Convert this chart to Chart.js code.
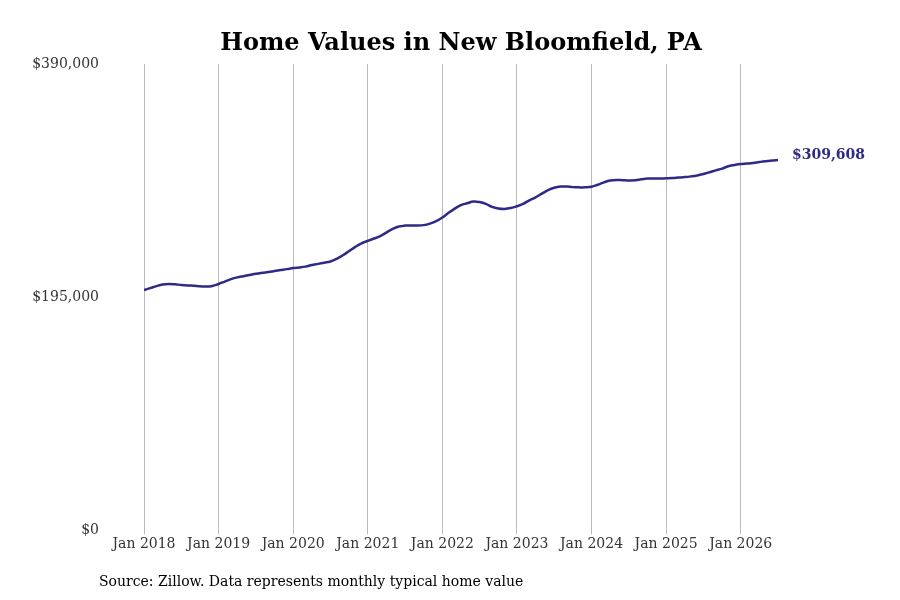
<!DOCTYPE html>
<html><head><meta charset="utf-8">
<script src="https://cdn.jsdelivr.net/npm/chart.js@4"></script>
<style>html,body{margin:0;padding:0;background:#fff}</style>
</head><body>
<canvas id="c" width="900" height="600"></canvas>
<script>
const startYear = 2018;
const values = [
200900,202500,204200,205600,206000,205700,205200,204800,204500,204100,203800,204300,
206000,208000,210000,211500,212500,213500,214500,215300,216000,216800,217600,218400,
219300,219800,220500,221800,222800,223800,224800,227000,230000,233500,237000,240000,
242000,244000,246000,249000,252000,254000,254800,255000,254800,255200,256500,258500,
261600,265500,269000,272000,273500,275000,274500,273000,270500,269200,268800,269500,
271000,273000,276000,278500,281500,284500,286500,287500,287500,287000,286800,286800,
287300,289000,291000,292500,293000,292800,292500,292800,293500,294200,294300,294200,
294400,294600,295000,295400,296000,296800,298000,299500,301000,302500,304500,305500,
306300,306700,307200,308000,308700,309200,309608];
const yTicks = [0,195000,390000];
const title = "Home Values in New Bloomfield, PA";
const source = "Source: Zillow. Data represents monthly typical home value";
const pts = values.map((v,i)=>({x:i,y:v}));
const serif = "'DejaVu Serif', serif";
const extras = {
  id:'extras',
  afterDraw(ch){
    const c=ch.ctx, x=ch.scales.x, y=ch.scales.y;
    const last=pts[pts.length-1];
    c.save();
    c.font="bold 24px "+serif; c.fillStyle="#000"; c.textAlign="center"; c.textBaseline="middle";
    c.fillText(title, 461, 44);
    c.textAlign="left";
    c.font="bold 14px "+serif; c.fillStyle="#2e2a85";
    c.fillText("$"+last.y.toLocaleString('en-US'), x.getPixelForValue(last.x)+14, y.getPixelForValue(last.y)-5);
    c.font="14px "+serif; c.fillStyle="#000";
    c.fillText(source, 99, 582);
    c.restore();
  }
};
new Chart(document.getElementById('c'),{
  type:'line',
  data:{datasets:[{data:pts,borderColor:'#2e2a85',borderWidth:2.5,pointRadius:0,tension:0.4,fill:false}]},
  options:{
    responsive:false,animation:false,
    layout:{padding:{top:64,right:122,bottom:45,left:0}},
    plugins:{legend:{display:false},tooltip:{enabled:false},title:{display:false}},
    scales:{
      x:{type:'linear',min:0,max:102,
        afterBuildTicks(a){a.ticks=[0,12,24,36,48,60,72,84,96].map(v=>({value:v}));},
        ticks:{callback:v=>'Jan '+(startYear+v/12),color:'#333',font:{family:serif,size:14},padding:2,maxRotation:0},
        grid:{color:'#bbb',drawTicks:true,tickLength:4},border:{display:false}},
      y:{min:0,max:390000,
        afterBuildTicks(a){a.ticks=yTicks.map(v=>({value:v}));},
        afterFit(a){a.width=144;},
        ticks:{callback:v=>'$'+v.toLocaleString('en-US'),color:'#333',font:{family:serif,size:14},padding:37},
        grid:{display:false},border:{display:false}}
    }
  },
  plugins:[extras]
});
</script>
</body></html>
